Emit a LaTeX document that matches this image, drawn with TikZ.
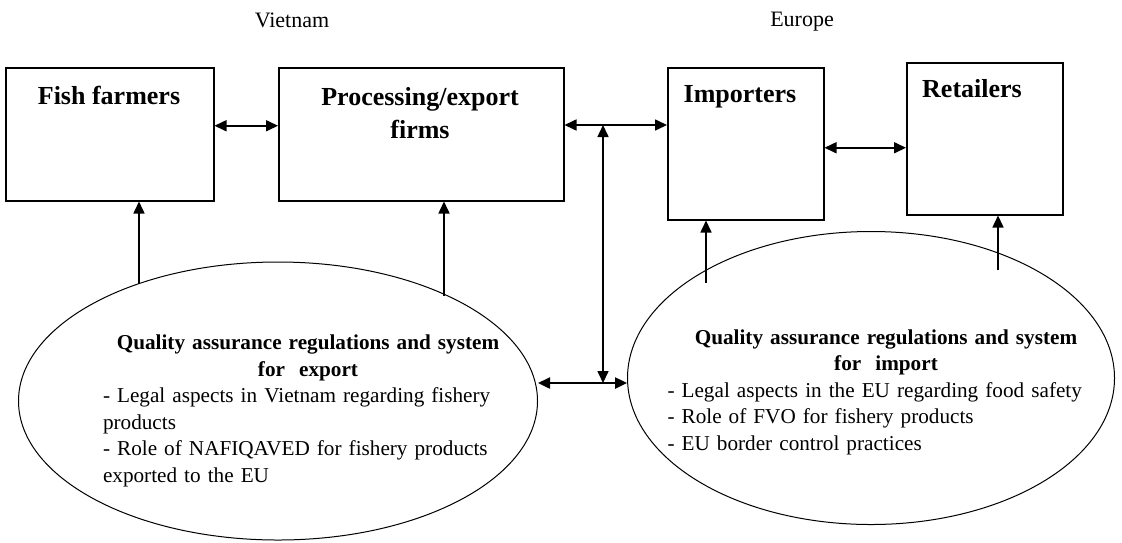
\documentclass[tikz,border=0pt]{standalone}
\usepackage{fontspec}
\setmainfont{Liberation Serif}
\usetikzlibrary{shapes.geometric,arrows.meta}
\setlength{\parindent}{0pt}

\begin{document}
\begin{tikzpicture}[x=.5pt,y=-.5pt,
    box/.style={draw, line width=.75pt, minimum height=66.5pt, anchor=north west, inner sep=0pt},
    qa/.style={draw, ellipse, line width=.5pt, inner sep=0pt},
    boxtext/.style={font=\fontsize{13}{16.5}\selectfont\bfseries, align=center},
    qatext/.style={font=\fontsize{10.6}{13.25}\selectfont, inner sep=0pt},
    tip/.style={-{Triangle[length=6pt,width=5.5pt]}, line width=.8pt},
    dbl/.style={{Triangle[length=6pt,width=5.5pt]}-{Triangle[length=6pt,width=5.5pt]}, line width=.8pt}]
  \useasboundingbox (0,0) rectangle (1122,542);

  \node [font=\fontsize{11}{13}\selectfont] (vn) at (292,20) {Vietnam};
  \node [font=\fontsize{11}{13}\selectfont] (eu) at (802,22) {Europe};

  % chain boxes
  \node [box, minimum width=104pt] (fish) at (5,67) {};
  \node [box, minimum width=142.5pt] (proc) at (278,67) {};
  \node [box, minimum width=78pt, minimum height=76pt] (imp) at (667,67) {};
  \node [box, minimum width=78pt, minimum height=76pt] (ret) at (906,62) {};
  \node [boxtext] (fishlbl) at (109,95) {Fish farmers};
  \node [boxtext] (proclbl) at (420,113) {Processing/export\\firms};
  \node [boxtext] (implbl) at (740,97) {Importers};
  \node [boxtext] (retlbl) at (972,89) {Retailers};

  % regulation ellipses
  \node [qa, minimum width=259.5pt, minimum height=139pt] (lqa) at (278,401) {};
  \node [qa, minimum width=243.5pt, minimum height=146.5pt] (rqa) at (871,378) {};
  \node [qatext, text width=205pt] (ltxt) at (308,411) {\centering\bfseries Quality assurance regulations and system\\for\ \ export\par
    \raggedright\mdseries - Legal aspects in Vietnam regarding fishery\\products\\- Role of NAFIQAVED for fishery products\\exported to the EU\par};
  \node [qatext, text width=218.5pt] (rtxt) at (886,392) {\centering\bfseries Quality assurance regulations and system\\for\ \ import\par
    \raggedright\mdseries - Legal aspects in the EU regarding food safety\\- Role of FVO for fishery products\\- EU border control practices\par};

  % connectors
  \coordinate (tj) at (603,125);
  \coordinate (bj) at (603,383);
  \coordinate (ir) at ([yshift=-2pt]imp.east);
  \draw [dbl] ([yshift=4.25pt]fish.east) -- ([yshift=4.25pt]proc.west);
  \draw [dbl] (tj -| proc.east) -- (tj -| imp.west);
  \draw [dbl] (ir) -- (ir -| ret.west);
  \draw [dbl] (tj) -- (bj);
  \draw [dbl, line width=1.2pt] (bj -| lqa.east) -- (bj -| rqa.west);

  \coordinate (q1) at (139,284);
  \coordinate (q2) at (444,296);
  \coordinate (q3) at (706,283);
  \coordinate (q4) at (998,270);
  \draw [tip] (q1) -- (q1 |- fish.south);
  \draw [tip] (q2) -- (q2 |- proc.south);
  \draw [tip] (q3) -- (q3 |- imp.south);
  \draw [tip] (q4) -- (q4 |- ret.south);
\end{tikzpicture}
\end{document}
